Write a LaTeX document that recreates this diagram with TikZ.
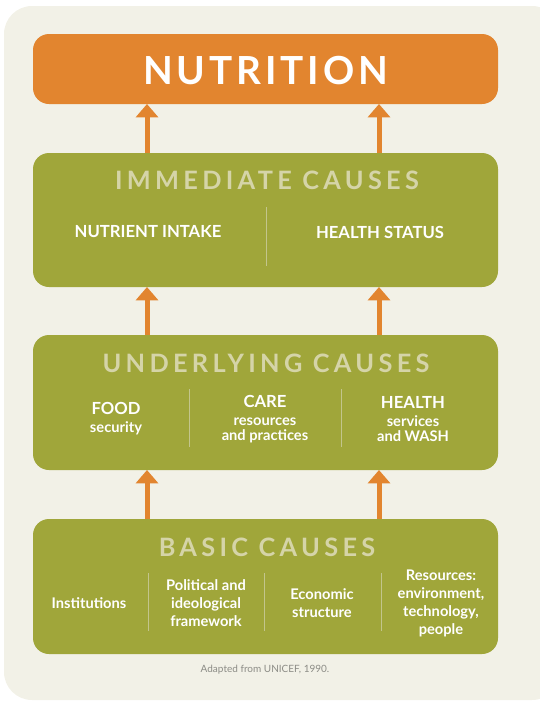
\documentclass[tikz,border=0pt]{standalone}
\usepackage{fontspec}
\setmainfont{Lato}
\newfontfamily\headfont{Lato}[LetterSpace=10]
\newfontfamily\capsfont{Lato}[LetterSpace=17]
\usetikzlibrary{arrows.meta}
\definecolor{nutorange}{HTML}{E2852F}
\definecolor{causegreen}{HTML}{A0A63A}
\definecolor{pagebg}{HTML}{F2F1E7}
\definecolor{titlebeige}{HTML}{D5D4A8}
\definecolor{rulegreen}{HTML}{C3C58C}
\definecolor{notegray}{HTML}{8C8C86}

\begin{document}
\begin{tikzpicture}
  [x=0.75pt,y=-0.75pt,
   panel/.style={rectangle,fill=causegreen,rounded corners=12pt,inner sep=0,
                 outer sep=0,minimum width=348.75pt,minimum height=101.25pt},
   toppanel/.style={rectangle,fill=nutorange,rounded corners=12pt,inner sep=0,
                    outer sep=0,minimum width=348.75pt,minimum height=52.5pt},
   causetitle/.style={text=titlebeige,font=\capsfont\bfseries\fontsize{19}{20}\selectfont,inner sep=0},
   item/.style={text=white,align=center,inner sep=0,
                font=\bfseries\fontsize{11}{13.5}\selectfont},
   divider/.style={draw=rulegreen,line width=0.6pt},
   uparrow/.style={draw=nutorange,line width=3.75pt,
                   -{Triangle[width=16.5pt,length=10pt]}}]
  \clip (0,0) rectangle (540,701);
  \fill[pagebg,rounded corners=21pt] (4,6) rectangle (560,700);
  % boxes
  \node[toppanel] (nut) at (265.5,69) {};
  \node[panel,minimum height=100.5pt] (imm) at (265.5,220) {};
  \node[panel] (und) at (265.5,402.5) {};
  \node[panel] (bas) at (265.5,586.5) {};
  \node[text=white,inner sep=0,font=\headfont\bfseries\fontsize{29}{30}\selectfont]
    (nuttitle) at (265.5,71) {NUTRITION};
  % arrows
  \coordinate (leftx) at (147,0);
  \coordinate (rightx) at (379,0);
  \draw[uparrow] (imm.north -| leftx) -- (nut.south -| leftx);
  \draw[uparrow] (imm.north -| rightx) -- (nut.south -| rightx);
  \draw[uparrow] (und.north -| leftx) -- (imm.south -| leftx);
  \draw[uparrow] (und.north -| rightx) -- (imm.south -| rightx);
  \draw[uparrow] (bas.north -| leftx) -- (und.south -| leftx);
  \draw[uparrow] (bas.north -| rightx) -- (und.south -| rightx);
  % immediate causes
  \node[causetitle] (immtitle) at (267,180) {IMMEDIATE CAUSES};
  \node[item,font=\bfseries\fontsize{12.5}{14}\selectfont] (intake) at (148,232) {NUTRIENT INTAKE};
  \node[item,font=\bfseries\fontsize{12.5}{14}\selectfont] (status) at (380,232) {HEALTH STATUS};
  \draw[divider] (266,207) -- (266,266);
  % underlying causes
  \node[causetitle] (undtitle) at (266,363) {UNDERLYING CAUSES};
  \node[item] (food) at (116,419) {{\fontsize{12.5}{14}\selectfont FOOD}\\security};
  \node[item] (care) at (265,419) {{\fontsize{12.5}{14}\selectfont CARE}\\resources\\[-2pt]and practices};
  \node[item] (health) at (413,419) {{\fontsize{12.5}{14}\selectfont HEALTH}\\services\\[-2pt]and WASH};
  \draw[divider] (189,389) -- (189,447);
  \draw[divider] (341,389) -- (341,447);
  % basic causes
  \node[causetitle] (bastitle) at (267,547) {BASIC CAUSES};
  \node[item] (inst) at (89,603) {Institutions};
  \node[item] (polit) at (206,603) {Political and\\ideological\\framework};
  \node[item] (econ) at (322,603) {Economic\\structure};
  \node[item] (reso) at (441,603) {Resources:\\environment,\\technology,\\people};
  \draw[divider] (148,573) -- (148,631);
  \draw[divider] (264,573) -- (264,631);
  \draw[divider] (381,573) -- (381,631);
  \node[text=notegray,inner sep=0,font=\fontsize{7.5}{9}\selectfont] (source) at (265,670)
    {Adapted from UNICEF, 1990.};
\end{tikzpicture}
\end{document}
